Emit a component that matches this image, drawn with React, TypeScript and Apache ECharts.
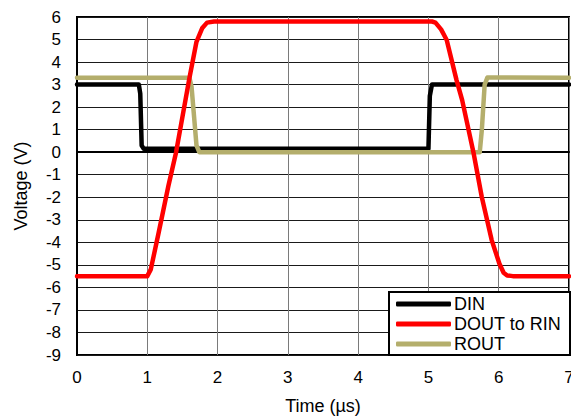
import React, { useEffect, useRef } from "react";
import * as echarts from "echarts";

const xTicks = [0, 1, 2, 3, 4, 5, 6, 7];
const yTicks = [-9, -8, -7, -6, -5, -4, -3, -2, -1, 0, 1, 2, 3, 4, 5, 6];

const dinTime = [0, 0.88, 0.9, 0.92, 0.95, 5.0, 5.02, 5.05, 7];
const dinVolt = [3.0, 3.0, 2.6, 0.3, 0.15, 0.15, 2.5, 3.0, 3.0];

const doutTime = [0, 1.0, 1.05, 1.16, 1.3, 1.41, 1.6, 1.7, 1.78, 1.85, 1.95, 5.05, 5.1, 5.18, 5.26, 5.4, 5.48, 5.64, 5.76, 5.9, 6.01, 6.07, 6.12, 6.2, 7];
const doutVolt = [-5.5, -5.5, -5.2, -3.6, -1.5, 0, 3.3, 4.9, 5.5, 5.75, 5.8, 5.8, 5.75, 5.45, 4.98, 3.2, 2.31, 0, -2, -3.9, -4.95, -5.35, -5.47, -5.5, -5.5];

const routTime = [0, 1.6, 1.63, 1.7, 1.74, 5.73, 5.76, 5.8, 5.84, 7];
const routVolt = [3.3, 3.3, 2.9, 0.3, 0.0, 0.0, 1.0, 3.0, 3.32, 3.3];

const seriesNames = ["DIN", "DOUT to RIN", "ROUT"];
const seriesColors = ["#000000", "#FF0000", "#B4AE6C"];

const zip = (t: number[], v: number[]) => t.map((x, i) => [x, v[i]]);

export default function App() {
  const ref = useRef<HTMLDivElement>(null);
  useEffect(() => {
    if (!ref.current) return;
    const chart = echarts.init(ref.current, undefined, { renderer: "svg" });
    const font = "Liberation Sans, Arial, sans-serif";
    const data = [zip(dinTime, dinVolt), zip(doutTime, doutVolt), zip(routTime, routVolt)];
    chart.setOption({
      animation: false,
      backgroundColor: "#ffffff",
      textStyle: { fontFamily: font },
      grid: {
        left: 77,
        right: 2,
        top: 17,
        bottom: 62,
        outerBoundsMode: "none",
        containLabel: false,
        show: true,
        borderColor: "#000",
        borderWidth: 2,
        backgroundColor: "transparent",
      },
      xAxis: {
        type: "value",
        min: xTicks[0],
        max: xTicks[xTicks.length - 1],
        interval: 1,
        name: "Time (µs)",
        nameLocation: "middle",
        nameGap: 42,
        nameTextStyle: { fontSize: 18, color: "#000", fontFamily: font },
        axisLine: { show: true, lineStyle: { color: "#000", width: 2 } },
        axisTick: { show: false },
        axisLabel: { fontSize: 17, color: "#000", margin: 14, fontFamily: font },
        splitLine: { show: true, lineStyle: { color: "#7a7a7a", width: 1 } },
      },
      yAxis: {
        type: "value",
        min: yTicks[0],
        max: yTicks[yTicks.length - 1],
        interval: 1,
        name: "Voltage (V)",
        nameLocation: "middle",
        nameGap: 47,
        nameTextStyle: { fontSize: 18, color: "#000", fontFamily: font },
        axisLine: { show: true, lineStyle: { color: "#000", width: 2 } },
        axisTick: { show: false },
        axisLabel: { fontSize: 17, color: "#000", margin: 16, fontFamily: font },
        splitLine: { show: true, lineStyle: { color: "#1a1a1a", width: 1 } },
      },
      legend: {
        orient: "vertical",
        left: 392,
        top: 293,
        z: 20,
        padding: [2, 4, 2, 4],
        itemWidth: 55,
        itemHeight: 5,
        itemGap: 2,
        icon: "roundRect",
        textStyle: { fontSize: 18, color: "#000", fontFamily: font, padding: [0, 0, 0, -2] },
        data: seriesNames,
      },
      graphic: [
        {
          type: "rect",
          z: 10,
          shape: { x: 389, y: 292, width: 181, height: 63 },
          style: { fill: "#fff", stroke: "#000", lineWidth: 2 },
        },
      ],
      series: seriesNames.map((name, i) => ({
        name,
        type: "line",
        data: data[i],
        showSymbol: false,
        symbol: "none",
        color: seriesColors[i],
        lineStyle: { color: seriesColors[i], width: 4.5, join: "round", cap: "round" },
        z: i === 1 ? 3 : 2,
      })),
    });
    return () => chart.dispose();
  }, []);
  return <div ref={ref} style={{ width: 571, height: 417, position: "absolute", left: 0, top: 0 }} />;
}
